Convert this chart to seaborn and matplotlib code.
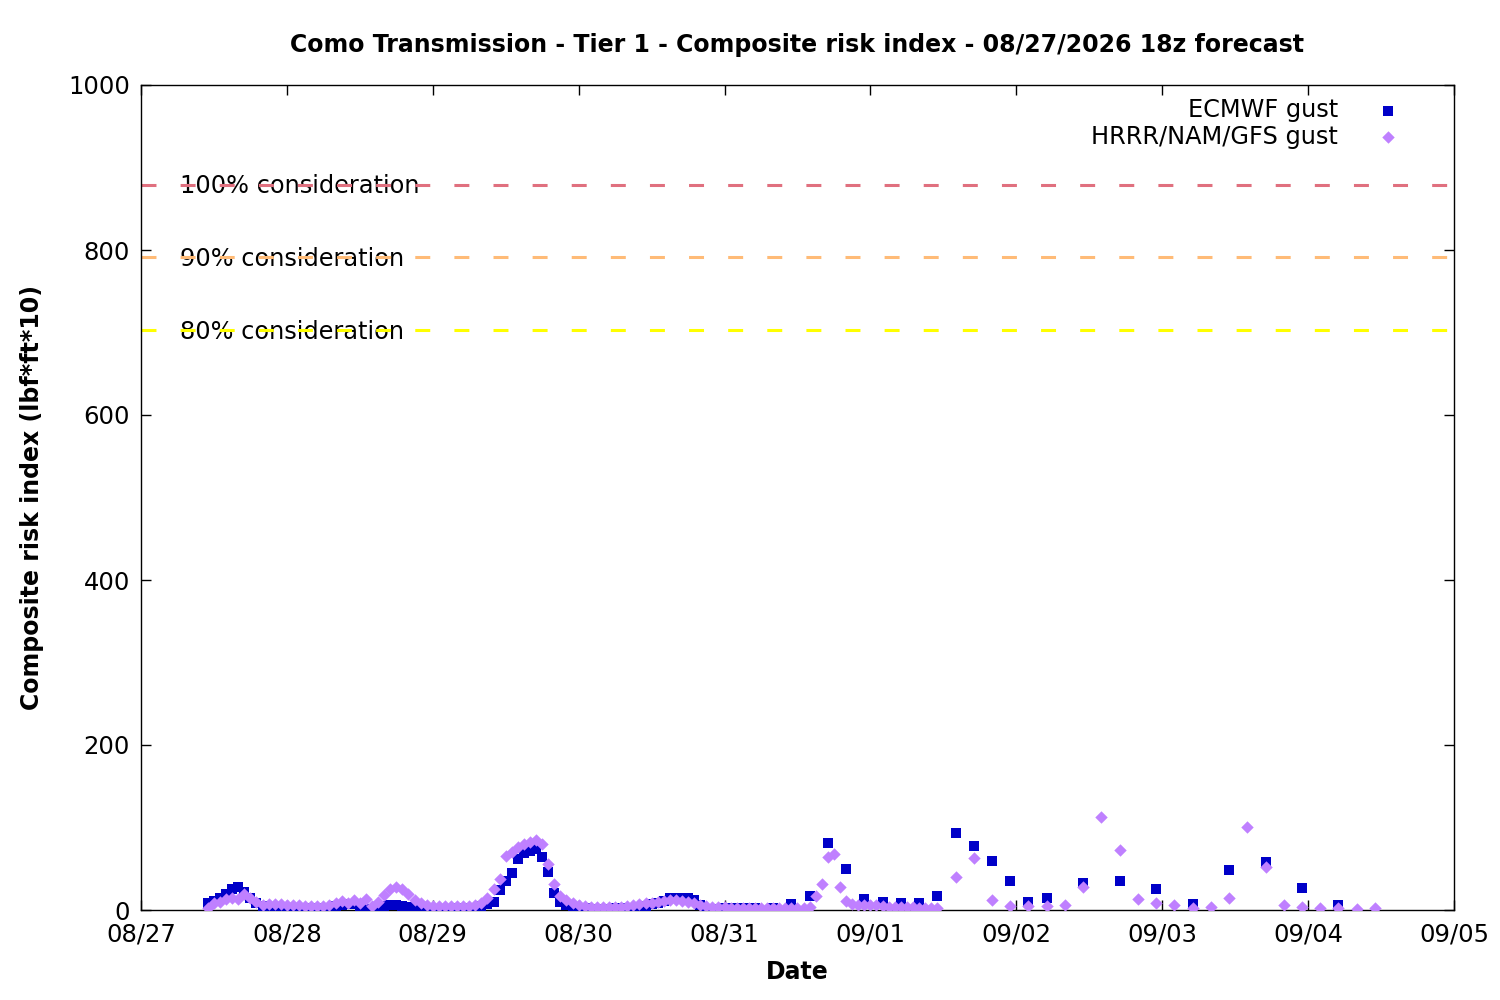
import pandas as pd
import numpy as np
import matplotlib
matplotlib.use("Agg")
import matplotlib.pyplot as plt
import matplotlib.dates as mdates
import matplotlib.transforms as mtransforms
import seaborn as sns

sns.set_theme(style="ticks")
plt.rcParams["font.family"] = ["DejaVu Sans"]
plt.rcParams["text.color"] = "black"
plt.rcParams["axes.labelcolor"] = "black"

# ECMWF gust: hourly 08/27 11:00 - 08/31 05:00, then 3-hourly, then 6-hourly
ecmwf_hourly = [
    9, 11, 14, 19, 25, 28, 22, 15, 8, 5,
    4, 3, 3, 3, 2, 2, 2, 2, 2, 2,
    3, 5, 6, 7, 7, 5, 1, 0, 3, 5,
    6, 6, 5, 4, 3, 2, 2, 1, 1, 1,
    1, 2, 2, 2, 3, 5, 7, 10, 24, 35,
    45, 62, 69, 72, 74, 64, 46, 21, 10, 6,
    3, 2, 2, 1, 1, 1, 1, 2, 2, 3,
    3, 4, 5, 7, 9, 11, 14, 15, 15, 14,
    12, 6, 1, 0, 1, 2, 2, 2, 2, 2,
    2,
]
ecmwf_3h = [3, 7, 17, 81, 50, 13, 10, 8, 8, 17, 93, 77, 59, 35, 10, 14]
ecmwf_6h = [33, 35, 25, 7, 48, 58, 27, 6]

# HRRR/NAM/GFS gust: hourly 08/27 11:00 - 09/01 11:00, then 3-hourly
hrrr_hourly = [
    3, 8, 10, 13, 15, 13, 20, 15, 10, 6,
    7, 7, 7, 6, 6, 6, 5, 5, 5, 5,
    6, 8, 11, 9, 12, 9, 13, 5, 10, 18,
    25, 28, 25, 19, 12, 8, 6, 5, 5, 5,
    5, 5, 5, 5, 6, 8, 15, 26, 38, 65,
    70, 76, 80, 83, 85, 80, 56, 31, 17, 12,
    8, 6, 5, 4, 4, 4, 4, 4, 4, 5,
    6, 7, 8, 9, 10, 11, 12, 12, 11, 10,
    8, 6, 5, 4, 4, 4, 3, 3, 3, 3,
    3, 3, 3, 3, 3, 3, 3, 3, 3, 4,
    17, 32, 64, 68, 28, 11, 7, 6, 6, 6,
    6, 5, 4, 4, 4, 4, 4, 3, 3, 3,
    3,
]
hrrr_3h = [40, 63, 12, 5, 5, 5, 6, 28, 113, 73, 13, 8,
           6, 3, 4, 15, 101, 52, 6, 4, 2, 2, 1, 2]

ecmwf_times = (list(pd.date_range("2026-08-27 11:00", "2026-08-31 05:00", freq="h"))
               + list(pd.date_range("2026-08-31 08:00", "2026-09-02 05:00", freq="3h"))
               + list(pd.date_range("2026-09-02 11:00", "2026-09-04 05:00", freq="6h")))
hrrr_times = (list(pd.date_range("2026-08-27 11:00", "2026-09-01 11:00", freq="h"))
              + list(pd.date_range("2026-09-01 14:00", "2026-09-04 11:00", freq="3h")))

ecmwf_df = pd.DataFrame({"time": ecmwf_times, "risk": ecmwf_hourly + ecmwf_3h + ecmwf_6h})
hrrr_df = pd.DataFrame({"time": hrrr_times, "risk": hrrr_hourly + hrrr_3h})

# consideration thresholds
thresh_labels = ["100% consideration", "90% consideration", "80% consideration"]
thresh_values = [879, 791, 703]
thresh_colors = ["#e0707f", "#ffbb77", "#ffff00"]

fig = plt.figure(figsize=(15, 10), dpi=100)
ax = fig.add_axes([0.094, 0.09, 0.8753, 0.825])

sns.scatterplot(data=ecmwf_df, x="time", y="risk", marker="s", s=46,
                color="#0000c8", linewidth=0, label="ECMWF gust", ax=ax, zorder=3)
sns.scatterplot(data=hrrr_df, x="time", y="risk", marker="D", s=40,
                color="#bf80ff", linewidth=0, label="HRRR/NAM/GFS gust", ax=ax, zorder=4)

trans = mtransforms.blended_transform_factory(ax.transAxes, ax.transData)
for lab, val, col in zip(thresh_labels, thresh_values, thresh_colors):
    ax.axhline(val, color=col, lw=2.2, linestyle=(0, (4.9, 7.9)), zorder=2)
    ax.text(0.0297, val - 2, lab, transform=trans, va="center", ha="left",
            fontsize=17.3, color="black", zorder=1)

ax.set_xlim(pd.Timestamp("2026-08-27"), pd.Timestamp("2026-09-05"))
ax.set_ylim(0, 1000)
ax.xaxis.set_major_locator(mdates.DayLocator())
ax.xaxis.set_major_formatter(mdates.DateFormatter("%m/%d"))
ax.set_yticks([0, 200, 400, 600, 800, 1000])
ax.tick_params(direction="in", length=7, width=1, top=True, right=True,
               labelsize=17.5, colors="black")
ax.tick_params(axis="x", pad=9)
ax.tick_params(axis="y", pad=8)
for sp in ax.spines.values():
    sp.set_color("black")
    sp.set_linewidth(1)

ax.set_title("Como Transmission - Tier 1 - Composite risk index - 08/27/2026 18z forecast",
             fontsize=17, fontweight="bold", pad=23.5)
ax.set_xlabel("Date", fontsize=17, fontweight="bold", labelpad=10)
ax.set_ylabel("Composite risk index (lbf*ft*10)", fontsize=17, fontweight="bold", labelpad=17)

leg = ax.legend(loc="upper right", bbox_to_anchor=(0.982, 0.996), borderaxespad=0,
                markerfirst=False, frameon=False, fontsize=17.3, handletextpad=0.75,
                handlelength=2.7, labelspacing=0.12)

fig.savefig("out.png", dpi=100)
